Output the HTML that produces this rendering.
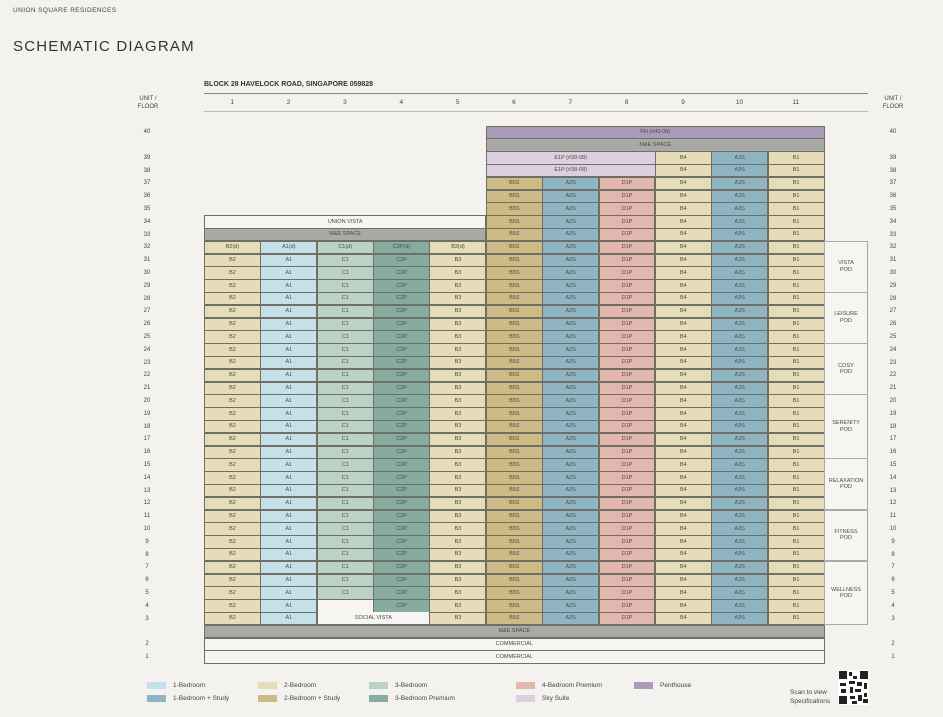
<!DOCTYPE html>
<html><head><meta charset="utf-8">
<style>
html,body{margin:0;padding:0;}
body{width:943px;height:717px;background:#f4f2ee;position:relative;overflow:hidden;font-family:"Liberation Sans",sans-serif;color:#3a3a3a;}
.a{position:absolute;}
.c{position:absolute;box-sizing:border-box;border:0.6px solid #6f6f66;font-size:5.5px;display:flex;align-items:center;justify-content:center;color:#4a4a44;text-align:center;line-height:6.5px;}
.fl{position:absolute;font-size:6px;width:20px;text-align:center;color:#444;}
.lg{position:absolute;font-size:6.5px;color:#444;}
.sw{position:absolute;width:19px;height:7px;}
</style></head><body>
<div class="a" style="left:13px;top:7px;font-size:6.5px;letter-spacing:0.4px;color:#444">UNION SQUARE RESIDENCES</div>
<div class="a" style="left:13px;top:38px;font-size:15px;letter-spacing:1.2px;color:#333">SCHEMATIC DIAGRAM</div>
<div class="a" style="left:204px;top:81px;font-size:7px;font-weight:bold;color:#333">BLOCK 28 HAVELOCK ROAD, SINGAPORE 059828</div>
<div class="a" style="left:204px;top:93px;width:664px;height:1px;background:#888"></div>
<div class="a" style="left:204px;top:111px;width:664px;height:1px;background:#bbb"></div>
<div class="a" style="left:128px;top:95px;width:40px;text-align:center;font-size:6px;line-height:8px;color:#444">UNIT /<br>FLOOR</div>
<div class="a" style="left:873px;top:95px;width:40px;text-align:center;font-size:6px;line-height:8px;color:#444">UNIT /<br>FLOOR</div>
<div id="g"></div>
<div class="sw" style="left:147px;top:682px;background:#c4e1ea"></div><div class="lg" style="left:173px;top:682px">1-Bedroom</div>
<div class="sw" style="left:147px;top:695px;background:#8fb5c5"></div><div class="lg" style="left:173px;top:695px">1-Bedroom + Study</div>
<div class="sw" style="left:258px;top:682px;background:#e6dcb8"></div><div class="lg" style="left:284px;top:682px">2-Bedroom</div>
<div class="sw" style="left:258px;top:695px;background:#cdba85"></div><div class="lg" style="left:284px;top:695px">2-Bedroom + Study</div>
<div class="sw" style="left:369px;top:682px;background:#bcd2c6"></div><div class="lg" style="left:395px;top:682px">3-Bedroom</div>
<div class="sw" style="left:369px;top:695px;background:#86aca1"></div><div class="lg" style="left:395px;top:695px">3-Bedroom Premium</div>
<div class="sw" style="left:516px;top:682px;background:#e3b7ae"></div><div class="lg" style="left:542px;top:682px">4-Bedroom Premium</div>
<div class="sw" style="left:516px;top:695px;background:#dccfe0"></div><div class="lg" style="left:542px;top:695px">Sky Suite</div>
<div class="sw" style="left:634px;top:682px;background:#ac9bb8"></div><div class="lg" style="left:660px;top:682px">Penthouse</div>
<div class="a" style="left:790px;top:688px;font-size:6.5px;line-height:9px;color:#444">Scan to view<br>Specifications</div>
<svg class="a" style="left:838px;top:670px" width="31" height="35" viewBox="0 0 31 35">
<rect width="31" height="35" fill="#fff"/>
<g fill="#222"><rect x="1" y="1" width="8" height="8"/><rect x="22" y="1" width="8" height="8"/><rect x="1" y="26" width="8" height="8"/>
<rect x="11" y="2" width="3" height="4"/><rect x="15" y="6" width="4" height="3"/><rect x="11" y="11" width="6" height="3"/><rect x="19" y="12" width="5" height="4"/><rect x="2" y="13" width="6" height="3"/><rect x="26" y="13" width="3" height="6"/><rect x="12" y="17" width="3" height="6"/><rect x="17" y="19" width="6" height="3"/><rect x="3" y="19" width="5" height="4"/><rect x="12" y="26" width="5" height="3"/><rect x="20" y="25" width="4" height="6"/><rect x="26" y="23" width="3" height="4"/><rect x="14" y="31" width="5" height="3"/><rect x="25" y="29" width="5" height="4"/></g>
</svg>
<script>
var g=document.getElementById('g'),h='';
var L=204,W=620/11,RH=12.8;
function ty(i){return 125.6+i*RH;}
function cell(c0,c1,i0,i1,bg,t,extra){h+='<div class="c" style="left:'+(L+c0*W)+'px;top:'+ty(i0)+'px;width:'+((c1-c0)*W+0.6)+'px;height:'+((i1-i0)*RH+0.6)+'px;background:'+bg+';'+(extra||'')+'">'+t+'</div>';}
var C={A1:'#c4e1ea',A2S:'#8fb5c5',A3S:'#8fb5c5',B:'#e6dcb8',B5S:'#cdba85',C1:'#bcd2c6',C2P:'#86aca1',D1P:'#e3b7ae',E:'#dccfe0',PH:'#ac9bb8',M:'#a9a9a6',W:'#f7f5f2'};
for(var k=0;k<11;k++)h+='<div class="a" style="left:'+(L+k*W)+'px;top:99px;width:'+W+'px;text-align:center;font-size:6.5px;color:#444">'+(k+1)+'</div>';
function lab(i,t){var y=ty(i)+3.5;h+='<div class="fl" style="left:137px;top:'+y+'px">'+t+'</div><div class="fl" style="left:883px;top:'+y+'px">'+t+'</div>';}
lab(0,40);for(var f=39;f>=3;f--)lab(41-f,f);lab(40,2);lab(41,1);
cell(5,11,0,1,C.PH,'PH (#40-08)');
cell(5,11,1,2,C.M,'M&amp;E SPACE');
cell(5,8,2,3,C.E,'E1P (#39-08)');cell(5,8,3,4,C.E,'E1P (#38-08)');
for(var f=39;f>=3;f--){var i=41-f;
 if(f<=37){cell(5,6,i,i+1,C.B5S,'B5S');cell(6,7,i,i+1,C.A2S,'A2S');cell(7,8,i,i+1,C.D1P,'D1P');}
 cell(8,9,i,i+1,C.B,'B4');cell(9,10,i,i+1,C.A3S,'A3S');cell(10,11,i,i+1,C.B,'B1');
 if(f<=32){var d=f==32?'(d)':'';
  cell(0,1,i,i+1,C.B,'B2'+d);cell(1,2,i,i+1,C.A1,'A1'+d);
  if(f>=5)cell(2,3,i,i+1,C.C1,'C1'+d);
  if(f>=4)cell(3,4,i,i+1,C.C2P,'C2P'+d);
  cell(4,5,i,i+1,C.B,'B3'+d);}
}
cell(0,5,7,8,C.W,'UNION VISTA');cell(0,5,8,9,C.M,'M&amp;E SPACE');
cell(2,3,37,38,C.W,'','border-bottom:none');cell(2,4,38,39,C.W,'SOCIAL VISTA','border-top:none');
cell(0,11,39,40,C.M,'M&amp;E SPACE');cell(0,11,40,41,C.W,'COMMERCIAL');cell(0,11,41,42,C.W,'COMMERCIAL');
var pods=[[32,29,'VISTA<br>POD'],[28,25,'LEISURE<br>POD'],[24,21,'COSY<br>POD'],[20,16,'SERENITY<br>POD'],[15,12,'RELAXATION<br>POD'],[11,8,'FITNESS<br>POD'],[7,3,'WELLNESS<br>POD']];
pods.forEach(function(p){var i0=41-p[0],i1=41-p[1]+1;h+='<div class="c" style="left:824px;top:'+ty(i0)+'px;width:44px;height:'+((i1-i0)*RH+0.6)+'px;background:#f7f5f2;border-color:#aaa">'+p[2]+'</div>';});
g.innerHTML=h;
</script>
</body></html>
